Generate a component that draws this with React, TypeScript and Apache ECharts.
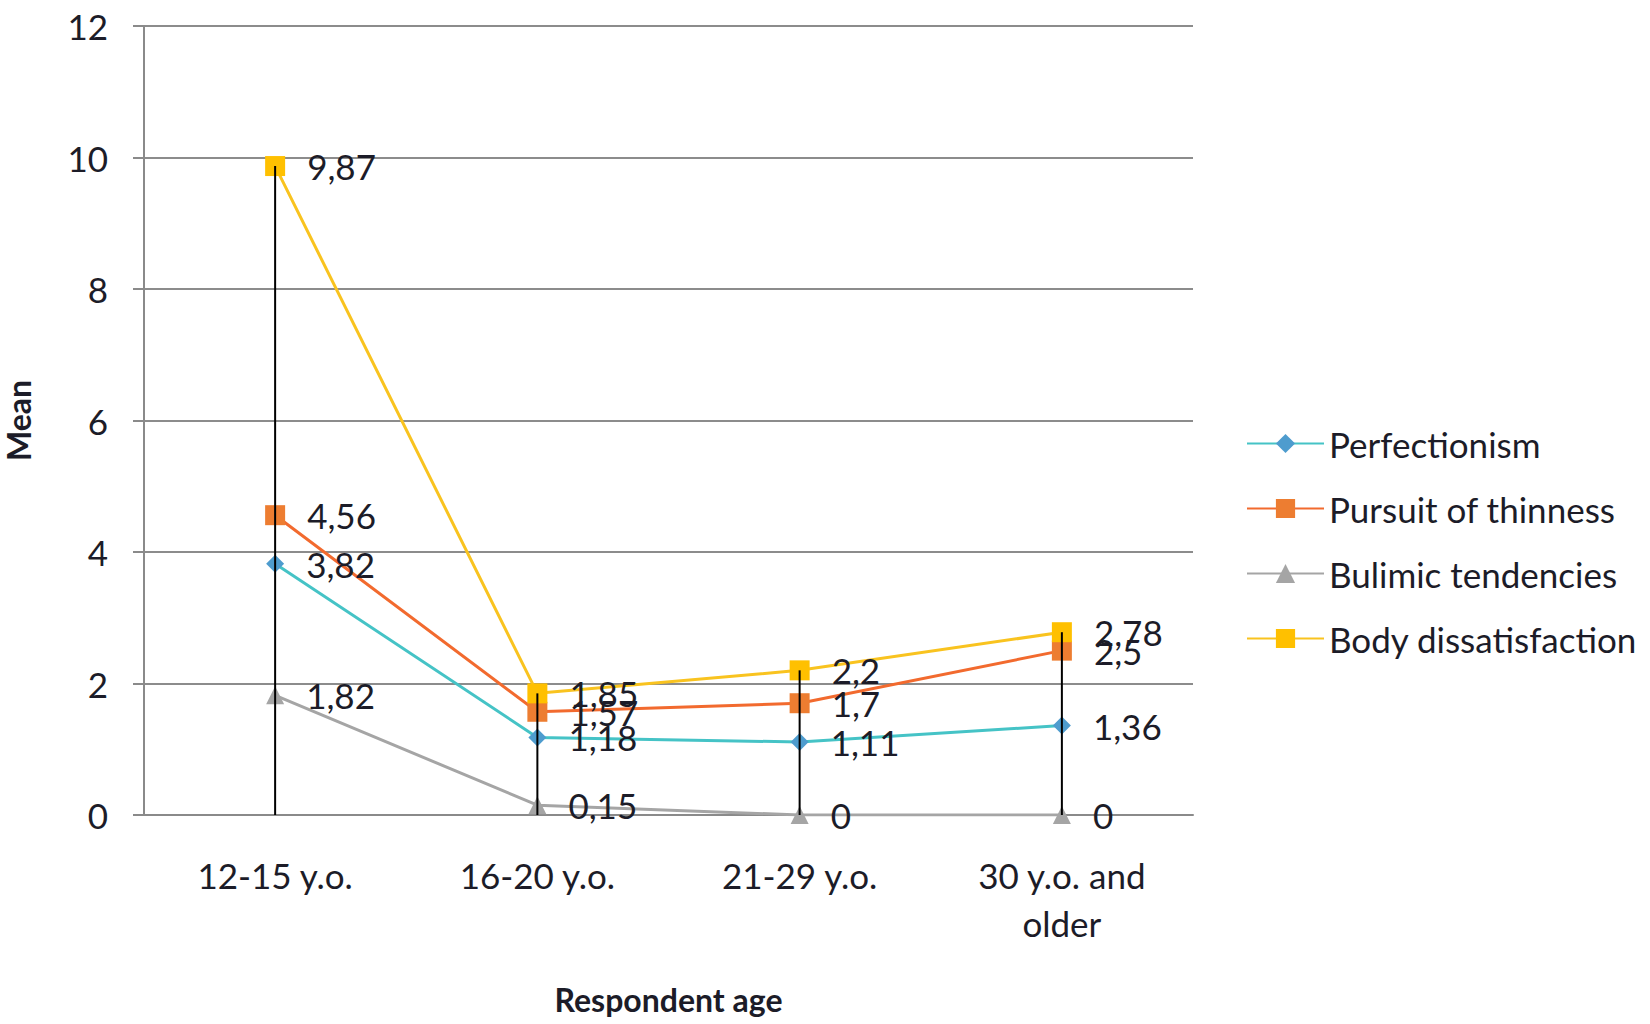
import React, { useEffect, useRef } from "react";
import * as echarts from "echarts";

const categories = ["12-15 y.o.", "16-20 y.o.", "21-29 y.o.", "30 y.o. and\nolder"];
const perfectionism = [3.82, 1.18, 1.11, 1.36];
const pursuitOfThinness = [4.56, 1.57, 1.7, 2.5];
const bulimicTendencies = [1.82, 0.15, 0, 0];
const bodyDissatisfaction = [9.87, 1.85, 2.2, 2.78];
const seriesNames = ["Perfectionism", "Pursuit of thinness", "Bulimic tendencies", "Body dissatisfaction"];
const yTicks = { min: 0, max: 12, interval: 2 };

const FONT = "Lato";
const TEXT = "#1c1c28";
const FS = 35;

export default function App() {
  const ref = useRef<HTMLDivElement>(null);
  useEffect(() => {
    if (!ref.current) return;
    const chart = echarts.init(ref.current, null, { renderer: "svg" });
    const fmt = (p: any) => String(p.value).replace(".", ",");
    const label = {
      show: true,
      position: "right",
      distance: 22,
      fontSize: FS,
      fontFamily: FONT,
      color: TEXT,
      formatter: fmt,
    };
    const dropValues = categories.map((_, i) =>
      Math.max(perfectionism[i], pursuitOfThinness[i], bulimicTendencies[i], bodyDissatisfaction[i])
    );
    chart.setOption({
      animation: false,
      backgroundColor: "#ffffff",
      textStyle: { fontFamily: FONT },
      grid: { left: 144, right: 457, top: 26, bottom: 209, outerBoundsMode: "none", containLabel: false },
      legend: {
        data: seriesNames,
        orient: "vertical",
        left: 1241,
        top: 421,
        itemWidth: 77,
        itemHeight: 24,
        itemGap: 30,
        textStyle: { fontSize: FS, lineHeight: 35, fontFamily: FONT, color: TEXT },
      },
      xAxis: {
        type: "category",
        data: categories,
        name: "Respondent age",
        nameLocation: "middle",
        nameGap: 168,
        nameTextStyle: { fontSize: 32, fontWeight: "bold", fontFamily: FONT, color: TEXT },
        axisLine: { lineStyle: { color: "#8a8a8a", width: 2 } },
        axisTick: { show: false },
        axisLabel: { fontSize: FS, fontFamily: FONT, color: TEXT, margin: 36, lineHeight: 48 },
      },
      yAxis: {
        type: "value",
        min: yTicks.min,
        max: yTicks.max,
        interval: yTicks.interval,
        name: "Mean",
        nameLocation: "middle",
        nameGap: 110,
        nameRotate: 90,
        nameTextStyle: { fontSize: 32, fontWeight: "bold", fontFamily: FONT, color: TEXT },
        axisLine: { show: true, lineStyle: { color: "#8a8a8a", width: 2 } },
        axisTick: { show: true, length: 11, lineStyle: { color: "#8a8a8a", width: 2 } },
        axisLabel: { fontSize: FS, fontFamily: FONT, color: TEXT, margin: 36 },
        splitLine: { lineStyle: { color: "#8c8c8c", width: 2 } },
      },
      series: [
        {
          name: "Perfectionism",
          type: "line",
          data: perfectionism,
          symbol: "diamond",
          symbolSize: 18,
          lineStyle: { color: "#45C3C6", width: 3 },
          itemStyle: { color: "#4E9CCE" },
          label,
          z: 3,
        },
        {
          name: "Pursuit of thinness",
          type: "line",
          data: pursuitOfThinness,
          symbol: "rect",
          symbolSize: 20,
          lineStyle: { color: "#F26A2E", width: 3 },
          itemStyle: { color: "#ED7D31" },
          label,
          z: 3,
        },
        {
          name: "Bulimic tendencies",
          type: "line",
          data: bulimicTendencies,
          symbol: "triangle",
          symbolSize: 18,
          lineStyle: { color: "#A5A5A5", width: 3 },
          itemStyle: { color: "#A5A5A5" },
          label,
          z: 3,
        },
        {
          name: "Body dissatisfaction",
          type: "line",
          data: bodyDissatisfaction,
          symbol: "rect",
          symbolSize: 20,
          lineStyle: { color: "#F9C31F", width: 3 },
          itemStyle: { color: "#FFC000" },
          label,
          z: 3,
        },
        {
          name: "drop",
          type: "bar",
          data: dropValues,
          barWidth: 2,
          itemStyle: { color: "#000000" },
          z: 5,
          silent: true,
        },
      ],
    });
    return () => chart.dispose();
  }, []);
  return (
    <div
      ref={ref}
      style={{ position: "fixed", left: 0, top: 0, width: 1650, height: 1024, background: "#fff" }}
    />
  );
}
